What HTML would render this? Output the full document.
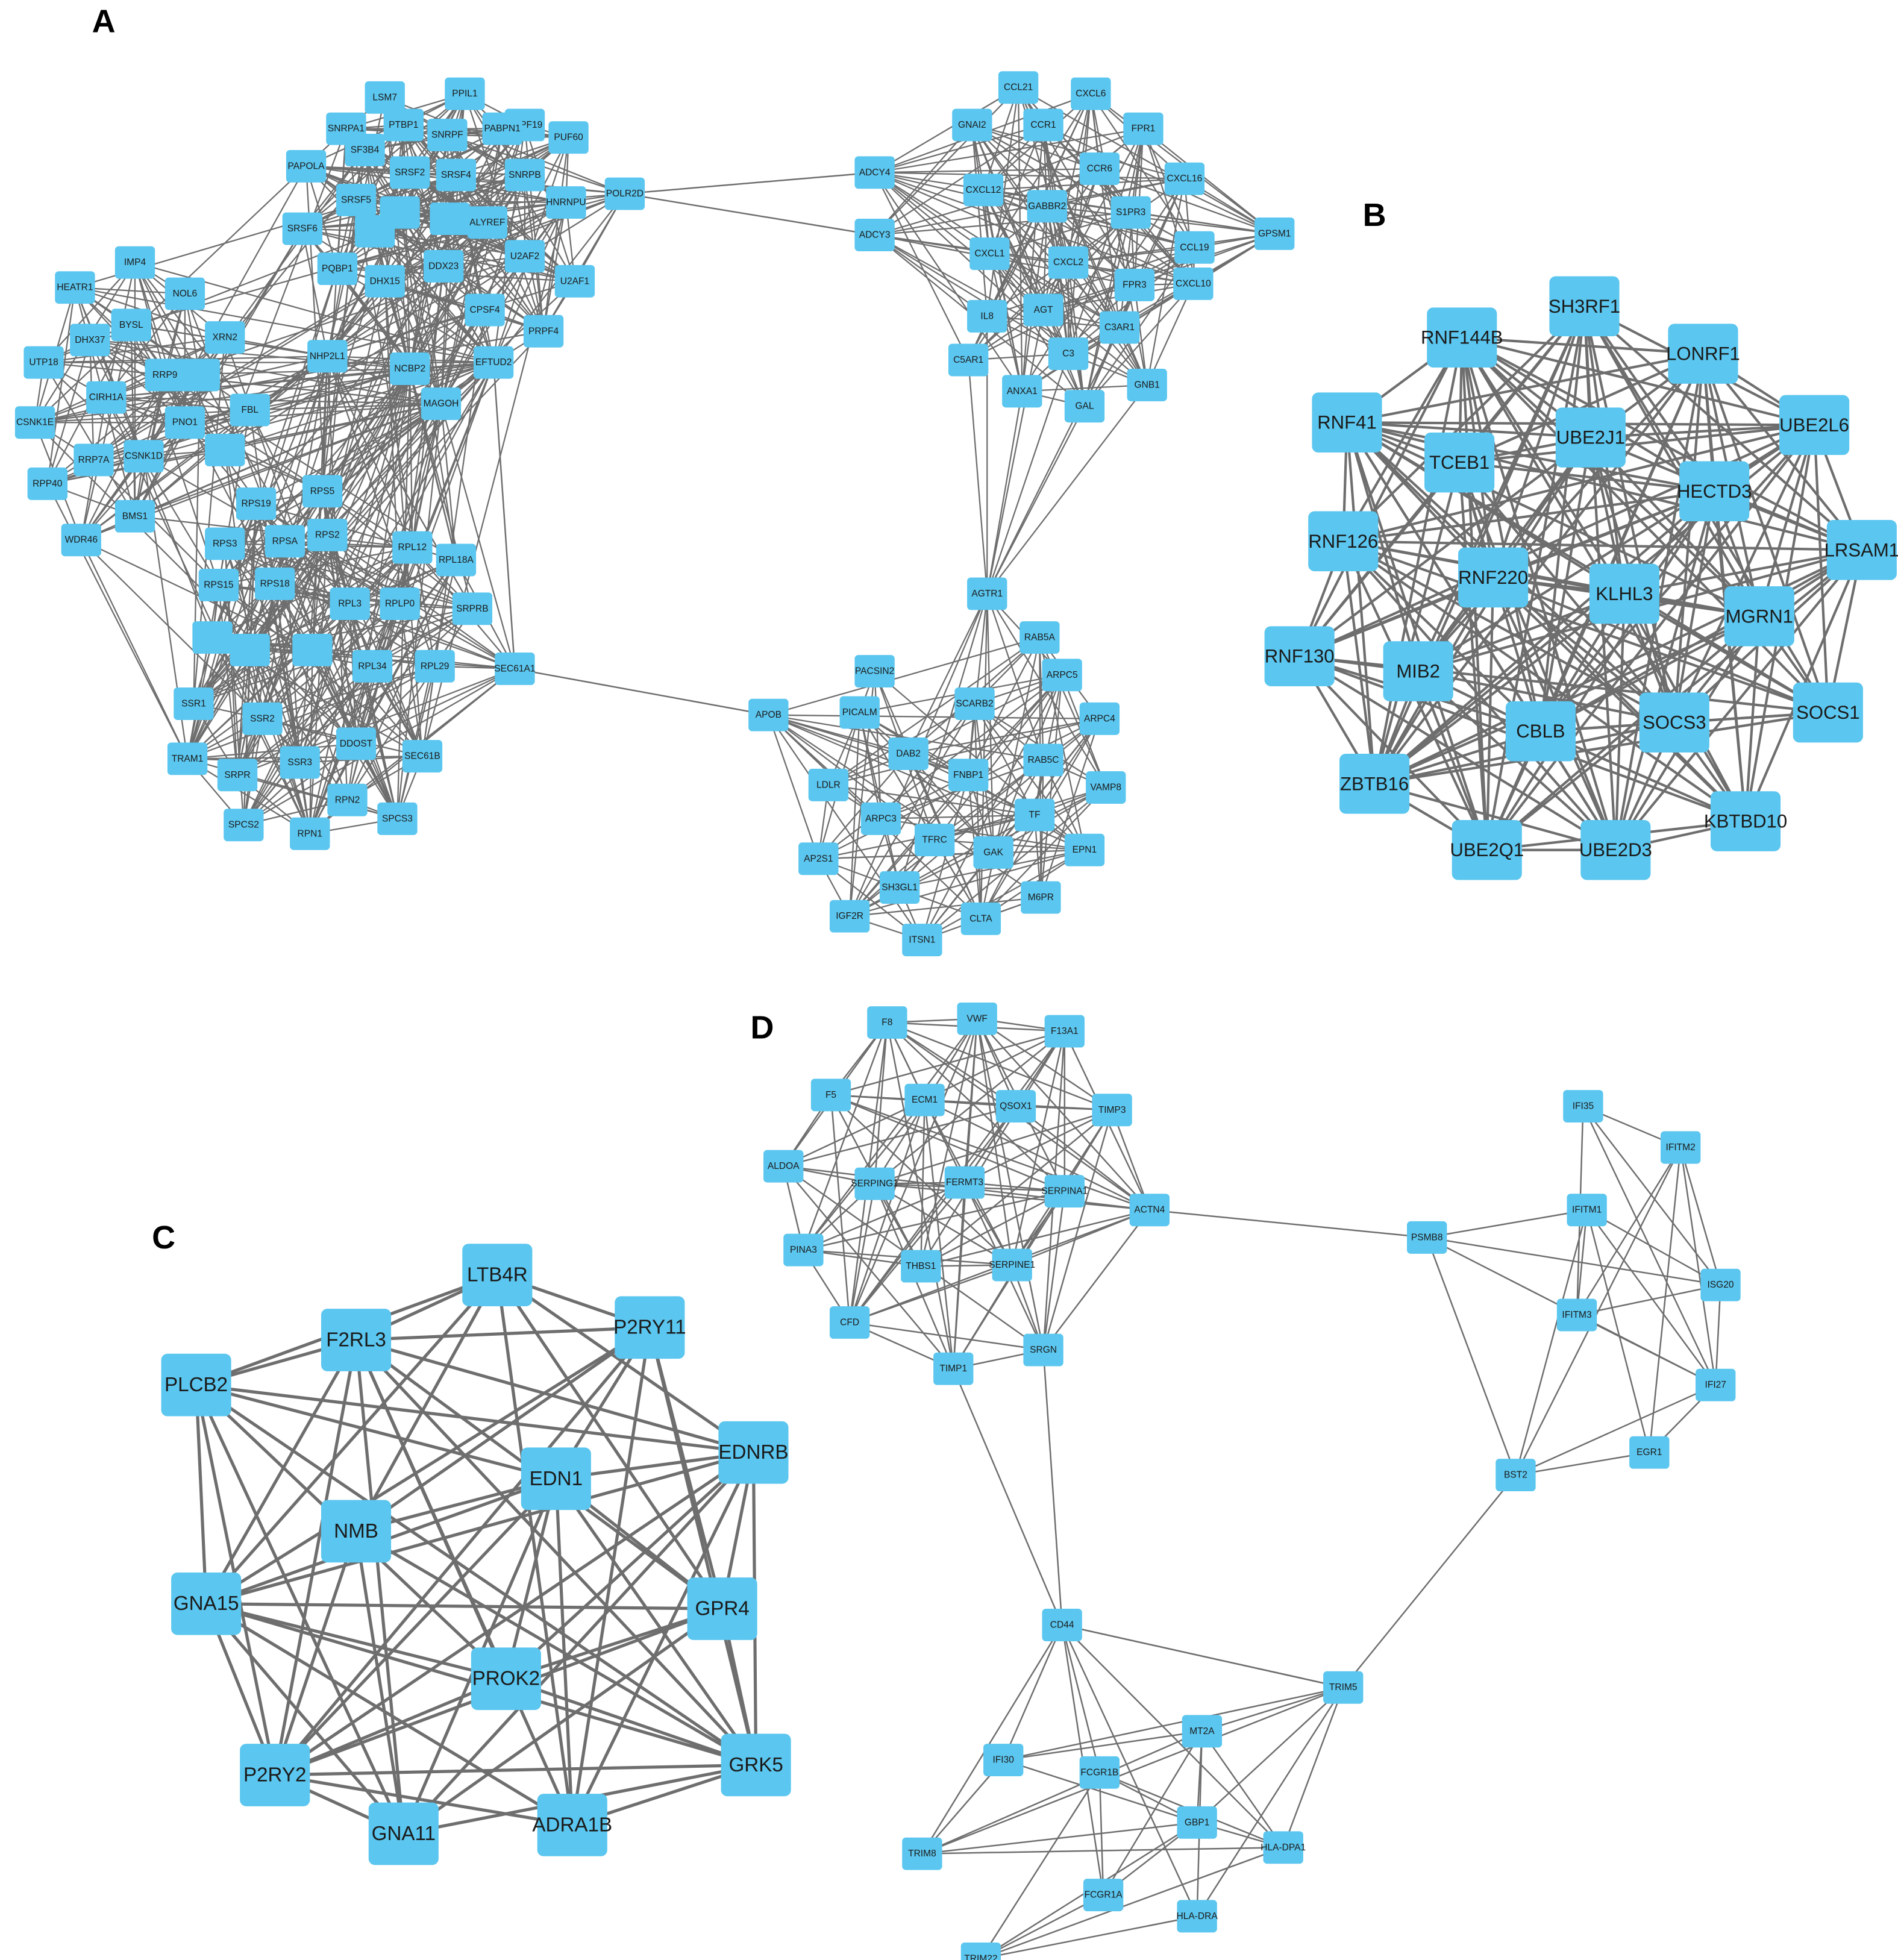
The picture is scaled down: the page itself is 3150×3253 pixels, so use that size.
<!DOCTYPE html>
<html><head><meta charset="utf-8"><style>
html,body{margin:0;padding:0;background:#fff;}
svg{display:block;}
text{font-family:"Liberation Sans",Arial,sans-serif;fill:#1a1a1a;text-anchor:middle;dominant-baseline:central;}
</style></head><body>
<svg id="s" width="3150" height="3253" viewBox="0 0 1519 1568" preserveAspectRatio="none" xmlns="http://www.w3.org/2000/svg">
<g id="E"></g><g id="N"></g>
<text x="83" y="17" style="font-size:26px;font-weight:bold;fill:#000">A</text>
<text x="1100" y="172" style="font-size:26px;font-weight:bold;fill:#000">B</text>
<text x="131" y="990" style="font-size:26px;font-weight:bold;fill:#000">C</text>
<text x="610" y="822" style="font-size:26px;font-weight:bold;fill:#000">D</text>
</svg>
<script>
var NS="http://www.w3.org/2000/svg";
var seed=12345;function rnd(){seed=(seed*1103515245+12345)%2147483648;return seed/2147483648;}
function P(s){return s.trim().split(/\s*;\s*/).map(function(t){var a=t.split(',');return {n:a[0],x:+a[1],y:+a[2]};});}
var A1=P("LSM7,308,78;PPIL1,372,75;SNRPA1,277,103;PTBP1,323,100;PRPF19,420,100;PAPOLA,245,133;SF3B4,292,120;SNRPF,358,108;PABPN1,402,103;PUF60,455,110;SRSF6,242,183;SRSF5,285,160;SRSF2,328,138;SRSF4,365,140;SNRPB,420,140;HNRNPU,453,162;ALYREF,390,178;POLR2D,500,155;PQBP1,270,215;DHX15,308,225;DDX23,355,213;U2AF2,420,205;U2AF1,460,225;CPSF4,388,248;PRPF4,435,265;NHP2L1,262,285;NCBP2,328,295;MAGOH,353,323;EFTUD2,395,290;,320,170;,360,175;,300,185");
var A2=P("IMP4,108,210;HEATR1,60,230;NOL6,148,235;BYSL,105,260;XRN2,180,270;DHX37,72,272;UTP18,35,290;RRP9,132,300;CIRH1A,85,318;CSNK1E,28,338;PNO1,148,338;FBL,200,328;RRP7A,75,368;CSNK1D,115,365;RPP40,38,387;BMS1,108,413;WDR46,65,432;,180,360;,160,300");
var A3=P("RPS5,258,393;RPS19,205,403;RPS3,180,435;RPSA,228,433;RPS2,262,428;RPL12,330,438;RPL18A,365,448;RPS15,175,468;RPS18,220,467;RPL3,280,483;RPLP0,320,483;SRPRB,378,487;SEC61A1,412,535;RPL34,298,533;RPL29,348,533;SSR1,155,563;SSR2,210,575;DDOST,285,595;SEC61B,338,605;SSR3,240,610;TRAM1,150,607;SRPR,190,620;RPN2,278,640;SPCS3,318,655;SPCS2,195,660;RPN1,248,667;,200,520;,250,520;,170,510");
var A4=P("CCL21,815,70;CXCL6,873,75;GNAI2,778,100;CCR1,835,100;FPR1,915,103;CCR6,880,135;CXCL16,948,143;ADCY4,700,138;CXCL12,787,152;GABBR2,838,165;S1PR3,905,170;ADCY3,700,188;CXCL1,792,203;CXCL2,855,210;CCL19,956,198;GPSM1,1020,187;FPR3,908,228;CXCL10,955,227;IL8,790,253;AGT,835,248;C3AR1,896,262;C5AR1,775,288;C3,855,283;ANXA1,818,313;GAL,868,325;GNB1,918,308");
var A5=P("AGTR1,790,475;RAB5A,832,510;PACSIN2,700,537;SCARB2,780,563;ARPC5,850,540;PICALM,688,570;ARPC4,880,575;APOB,615,572;DAB2,727,603;RAB5C,835,608;FNBP1,775,620;LDLR,663,628;VAMP8,885,630;ARPC3,705,655;TF,828,652;TFRC,748,672;GAK,795,682;EPN1,868,680;AP2S1,655,687;SH3GL1,720,710;M6PR,833,718;IGF2R,680,733;CLTA,785,735;ITSN1,738,752");
var B=P("SH3RF1,1268,245;RNF144B,1170,270;LONRF1,1363,283;RNF41,1078,338;UBE2J1,1273,350;UBE2L6,1452,340;TCEB1,1168,370;HECTD3,1372,393;RNF126,1075,433;LRSAM1,1490,440;RNF220,1195,462;KLHL3,1300,475;MGRN1,1408,493;RNF130,1040,525;MIB2,1135,537;CBLB,1233,585;SOCS3,1340,578;SOCS1,1463,570;ZBTB16,1100,627;KBTBD10,1397,657;UBE2Q1,1190,680;UBE2D3,1293,680");
var C=P("LTB4R,398,1020;P2RY11,520,1062;F2RL3,285,1072;PLCB2,157,1108;EDN1,445,1183;EDNRB,603,1162;NMB,285,1225;GNA15,165,1283;GPR4,578,1287;PROK2,405,1343;P2RY2,220,1420;GRK5,605,1412;ADRA1B,458,1460;GNA11,323,1467");
var D1=P("F8,710,818;VWF,782,815;F13A1,852,825;F5,665,876;ECM1,740,880;QSOX1,813,885;TIMP3,890,888;ALDOA,627,933;SERPING1,700,947;FERMT3,772,946;SERPINA1,852,953;ACTN4,920,968;PINA3,643,1000;THBS1,737,1013;SERPINE1,810,1012;CFD,680,1058;TIMP1,763,1095;SRGN,835,1080");
var D2=P("IFI35,1267,885;IFITM2,1345,918;PSMB8,1142,990;IFITM1,1270,968;ISG20,1377,1028;IFITM3,1262,1052;IFI27,1373,1108;EGR1,1320,1162;BST2,1213,1180");
var D3=P("CD44,850,1300;TRIM5,1075,1350;MT2A,962,1385;IFI30,803,1408;FCGR1B,880,1418;GBP1,958,1458;HLA-DPA1,1027,1478;TRIM8,738,1483;FCGR1A,883,1516;HLA-DRA,958,1533;TRIM22,785,1567");
var E=document.getElementById('E'),N=document.getElementById('N');
function line(a,b,w){var l=document.createElementNS(NS,'line');l.setAttribute('x1',a.x);l.setAttribute('y1',a.y);l.setAttribute('x2',b.x);l.setAttribute('y2',b.y);l.setAttribute('stroke','#6e6e6e');l.setAttribute('stroke-width',w);E.appendChild(l);}
function dense(g,p,w){for(var i=0;i<g.length;i++)for(var j=i+1;j<g.length;j++)if(rnd()<p)line(g[i],g[j],w);}
function cross(g,h,p,w){for(var i=0;i<g.length;i++)for(var j=0;j<h.length;j++)if(rnd()<p)line(g[i],h[j],w);}
function f(g,n){for(var i=0;i<g.length;i++)if(g[i].n==n)return g[i];}
dense(A1,0.5,1.1);dense(A2,0.5,1.1);dense(A3,0.5,1.1);dense(A4,0.55,1.1);dense(A5,0.45,1.1);
cross(A1,A2,0.03,1.1);cross(A1,A3,0.04,1.1);cross(A2,A3,0.06,1.1);
["NHP2L1","EFTUD2","MAGOH","NCBP2"].forEach(function(n){var a=f(A1,n);A2.concat(A3).forEach(function(b){if(rnd()<0.35)line(a,b,1.1);});});
line(f(A1,"POLR2D"),f(A4,"ADCY4"),1.2);line(f(A1,"POLR2D"),f(A4,"ADCY3"),1.2);
line(f(A3,"SEC61A1"),f(A5,"APOB"),1.2);line(f(A1,"EFTUD2"),f(A3,"SEC61A1"),1.2);
["C5AR1","ANXA1","GAL","GNB1","C3","IL8","AGT","C3AR1"].forEach(function(n){line(f(A5,"AGTR1"),f(A4,n),1.1);});
dense(B,0.8,2);dense(C,0.75,2.5);dense(D1,0.6,1.2);dense(D2,0.65,1.2);dense(D3,0.6,1.2);
line(f(D1,"ACTN4"),f(D2,"PSMB8"),1.2);line(f(D1,"TIMP1"),f(D3,"CD44"),1.2);line(f(D1,"SRGN"),f(D3,"CD44"),1.2);
line(f(D3,"CD44"),f(D3,"TRIM5"),1.2);line(f(D3,"TRIM5"),f(D2,"BST2"),1.2);
function nodes(g,w,h,fs,r){g.forEach(function(o){var q=document.createElementNS(NS,'rect');q.setAttribute('x',o.x-w/2);q.setAttribute('y',o.y-h/2);q.setAttribute('width',w);q.setAttribute('height',h);q.setAttribute('rx',r);q.setAttribute('fill','#5bc6ef');N.appendChild(q);
if(o.n){var t=document.createElementNS(NS,'text');t.setAttribute('x',o.x);t.setAttribute('y',o.y);t.setAttribute('style','font-size:'+fs+'px');t.textContent=o.n;N.appendChild(t);}});}
[A1,A2,A3,A4,A5].forEach(function(g){nodes(g,32,26,7.5,3);});
nodes(B,56,48,15,5);nodes(C,56,50,16,5);
[D1,D2,D3].forEach(function(g){nodes(g,32,26,7.5,3);});
</script>
</body></html>
